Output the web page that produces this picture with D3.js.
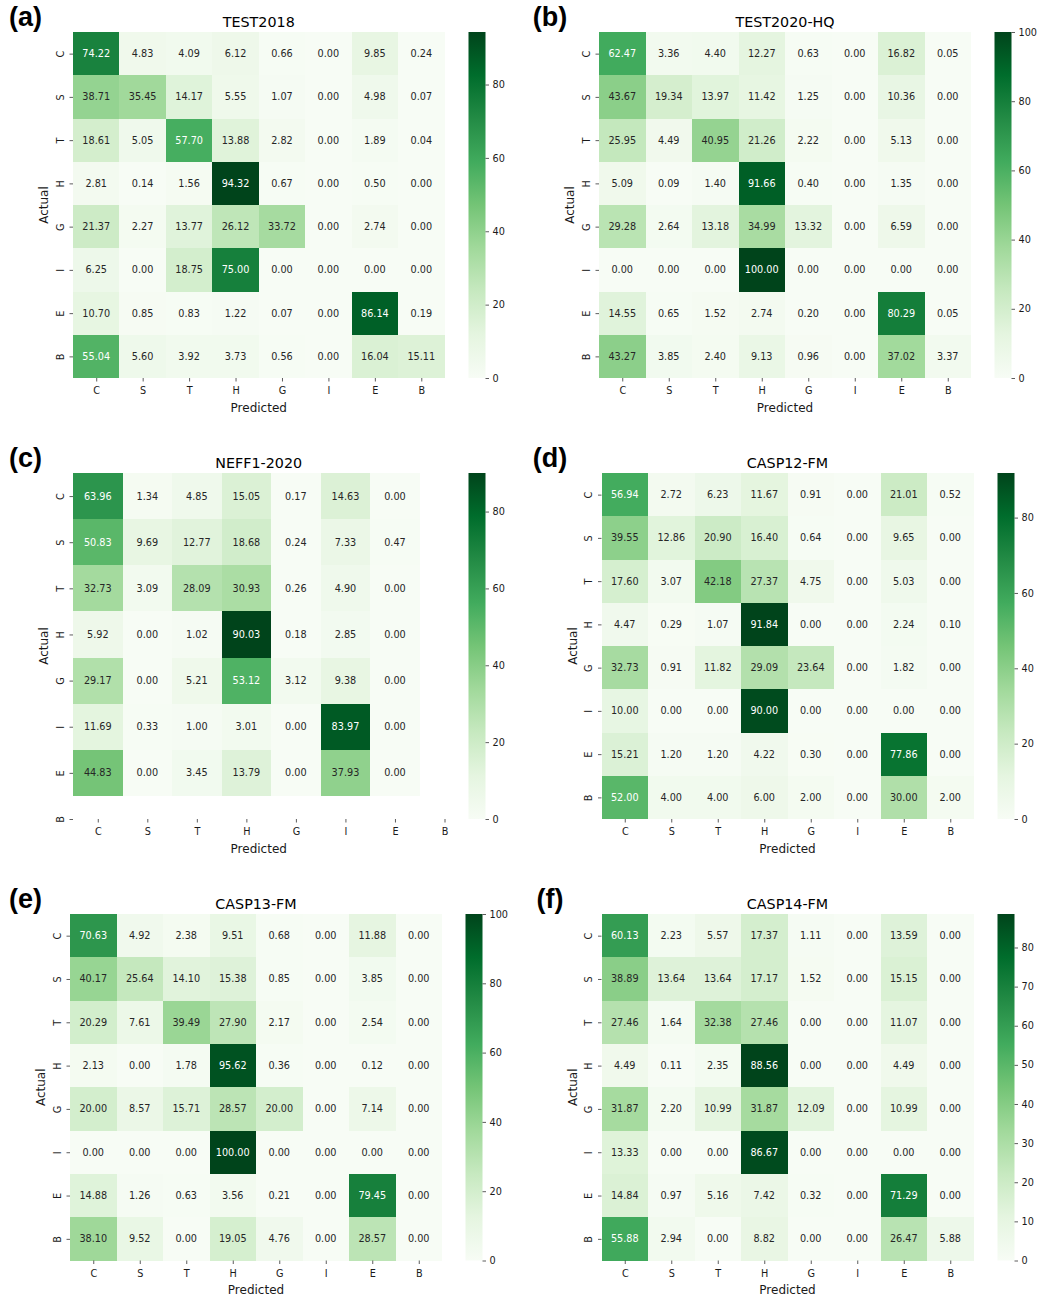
<!DOCTYPE html>
<html>
<head>
<meta charset="utf-8">
<script src="https://cdn.jsdelivr.net/npm/d3@7"></script>
<style>
  html, body { margin: 0; padding: 0; background: #fff; }
</style>
</head>
<body>
<div id="chart"></div>
<script>
// ---------------- DATA ----------------
const classLabels = ["C", "S", "T", "H", "G", "I", "E", "B"];
const panelIds = ["(a)", "(b)", "(c)", "(d)", "(e)", "(f)"];
const titles = ["TEST2018", "TEST2020-HQ", "NEFF1-2020", "CASP12-FM", "CASP13-FM", "CASP14-FM"];

const test2018 = [
  [74.22, 4.83, 4.09, 6.12, 0.66, 0.00, 9.85, 0.24],
  [38.71, 35.45, 14.17, 5.55, 1.07, 0.00, 4.98, 0.07],
  [18.61, 5.05, 57.70, 13.88, 2.82, 0.00, 1.89, 0.04],
  [2.81, 0.14, 1.56, 94.32, 0.67, 0.00, 0.50, 0.00],
  [21.37, 2.27, 13.77, 26.12, 33.72, 0.00, 2.74, 0.00],
  [6.25, 0.00, 18.75, 75.00, 0.00, 0.00, 0.00, 0.00],
  [10.70, 0.85, 0.83, 1.22, 0.07, 0.00, 86.14, 0.19],
  [55.04, 5.60, 3.92, 3.73, 0.56, 0.00, 16.04, 15.11]
];
const test2020hq = [
  [62.47, 3.36, 4.40, 12.27, 0.63, 0.00, 16.82, 0.05],
  [43.67, 19.34, 13.97, 11.42, 1.25, 0.00, 10.36, 0.00],
  [25.95, 4.49, 40.95, 21.26, 2.22, 0.00, 5.13, 0.00],
  [5.09, 0.09, 1.40, 91.66, 0.40, 0.00, 1.35, 0.00],
  [29.28, 2.64, 13.18, 34.99, 13.32, 0.00, 6.59, 0.00],
  [0.00, 0.00, 0.00, 100.00, 0.00, 0.00, 0.00, 0.00],
  [14.55, 0.65, 1.52, 2.74, 0.20, 0.00, 80.29, 0.05],
  [43.27, 3.85, 2.40, 9.13, 0.96, 0.00, 37.02, 3.37]
];
const neff12020 = [
  [63.96, 1.34, 4.85, 15.05, 0.17, 14.63, 0.00],
  [50.83, 9.69, 12.77, 18.68, 0.24, 7.33, 0.47],
  [32.73, 3.09, 28.09, 30.93, 0.26, 4.90, 0.00],
  [5.92, 0.00, 1.02, 90.03, 0.18, 2.85, 0.00],
  [29.17, 0.00, 5.21, 53.12, 3.12, 9.38, 0.00],
  [11.69, 0.33, 1.00, 3.01, 0.00, 83.97, 0.00],
  [44.83, 0.00, 3.45, 13.79, 0.00, 37.93, 0.00]
];
const casp12fm = [
  [56.94, 2.72, 6.23, 11.67, 0.91, 0.00, 21.01, 0.52],
  [39.55, 12.86, 20.90, 16.40, 0.64, 0.00, 9.65, 0.00],
  [17.60, 3.07, 42.18, 27.37, 4.75, 0.00, 5.03, 0.00],
  [4.47, 0.29, 1.07, 91.84, 0.00, 0.00, 2.24, 0.10],
  [32.73, 0.91, 11.82, 29.09, 23.64, 0.00, 1.82, 0.00],
  [10.00, 0.00, 0.00, 90.00, 0.00, 0.00, 0.00, 0.00],
  [15.21, 1.20, 1.20, 4.22, 0.30, 0.00, 77.86, 0.00],
  [52.00, 4.00, 4.00, 6.00, 2.00, 0.00, 30.00, 2.00]
];
const casp13fm = [
  [70.63, 4.92, 2.38, 9.51, 0.68, 0.00, 11.88, 0.00],
  [40.17, 25.64, 14.10, 15.38, 0.85, 0.00, 3.85, 0.00],
  [20.29, 7.61, 39.49, 27.90, 2.17, 0.00, 2.54, 0.00],
  [2.13, 0.00, 1.78, 95.62, 0.36, 0.00, 0.12, 0.00],
  [20.00, 8.57, 15.71, 28.57, 20.00, 0.00, 7.14, 0.00],
  [0.00, 0.00, 0.00, 100.00, 0.00, 0.00, 0.00, 0.00],
  [14.88, 1.26, 0.63, 3.56, 0.21, 0.00, 79.45, 0.00],
  [38.10, 9.52, 0.00, 19.05, 4.76, 0.00, 28.57, 0.00]
];
const casp14fm = [
  [60.13, 2.23, 5.57, 17.37, 1.11, 0.00, 13.59, 0.00],
  [38.89, 13.64, 13.64, 17.17, 1.52, 0.00, 15.15, 0.00],
  [27.46, 1.64, 32.38, 27.46, 0.00, 0.00, 11.07, 0.00],
  [4.49, 0.11, 2.35, 88.56, 0.00, 0.00, 4.49, 0.00],
  [31.87, 2.20, 10.99, 31.87, 12.09, 0.00, 10.99, 0.00],
  [13.33, 0.00, 0.00, 86.67, 0.00, 0.00, 0.00, 0.00],
  [14.84, 0.97, 5.16, 7.42, 0.32, 0.00, 71.29, 0.00],
  [55.88, 2.94, 0.00, 8.82, 0.00, 0.00, 26.47, 5.88]
];
const matrices = [test2018, test2020hq, neff12020, casp12fm, casp13fm, casp14fm];

const cbTicks20 = [0, 20, 40, 60, 80];
const cbTicks20to100 = [0, 20, 40, 60, 80, 100];
const cbTicks10 = [0, 10, 20, 30, 40, 50, 60, 70, 80];
const colorbarTicks = [cbTicks20, cbTicks20to100, cbTicks20, cbTicks20, cbTicks20to100, cbTicks10];

// Matplotlib "Greens" colormap control colours
const greens = ["#f7fcf5", "#e5f5e0", "#c7e9c0", "#a1d99b", "#74c476", "#41ab5d", "#238b45", "#006d2c", "#00441b"];

// ---------------- LAYOUT ----------------
const layout = [
  { L: 73,    T: 32,  R: 444.5, B: 378,    cbL: 468.5, cbR: 485.5, labelX: 25.5 },
  { L: 599,   T: 32,  R: 971,   B: 378,    cbL: 994.5, cbR: 1011.5, labelX: 550 },
  { L: 73,    T: 473, R: 444.5, B: 819,    cbL: 468.5, cbR: 485.5, labelX: 25.5 },
  { L: 601.5, T: 473, R: 973.5, B: 819,    cbL: 997.5, cbR: 1014.5, labelX: 550 },
  { L: 70,    T: 914, R: 442,   B: 1260.5, cbL: 465.5, cbR: 482.5, labelX: 25.5 },
  { L: 601.5, T: 914, R: 973.5, B: 1260.5, cbL: 997.5, cbR: 1014.5, labelX: 550 }
];

const FONT = "'DejaVu Sans', 'Noto Sans', sans-serif";
const TXT = "#1a1a1a";
const TICK_LEN = 3.5, TICK_PAD = 3.5;

function relLum(c) {
  const rgb = d3.rgb(c);
  const lin = [rgb.r, rgb.g, rgb.b].map(v => {
    v = v / 255;
    return v <= 0.03928 ? v / 12.92 : Math.pow((v + 0.055) / 1.055, 2.4);
  });
  return 0.2126 * lin[0] + 0.7152 * lin[1] + 0.0722 * lin[2];
}

const svg = d3.select("#chart").append("svg")
  .attr("width", 1042).attr("height", 1298)
  .style("background", "#fff")
  .style("font-family", FONT);

svg.append("rect").attr("width", 1042).attr("height", 1298).attr("fill", "#fff");
const defs = svg.append("defs");

matrices.forEach((data, pi) => {
  const lay = layout[pi];
  const nR = data.length, nC = data[0].length;
  const extX = Math.max(nC, classLabels.length - 0.5);
  const extY = Math.max(nR, classLabels.length - 0.5);
  const x = d3.scaleLinear().domain([0, extX]).range([lay.L, lay.R]);
  const y = d3.scaleLinear().domain([0, extY]).range([lay.T, lay.B]);
  const flat = data.flat();
  const vmin = d3.min(flat), vmax = d3.max(flat);
  const color = d3.scaleLinear()
    .domain(greens.map((_, i) => vmin + (vmax - vmin) * i / (greens.length - 1)))
    .range(greens)
    .interpolate(d3.interpolateRgb)
    .clamp(true);

  const g = svg.append("g");

  // cells
  const cells = [];
  data.forEach((row, i) => row.forEach((v, j) => cells.push({ i, j, v })));
  g.append("g").selectAll("rect").data(cells).join("rect")
    .attr("x", d => x(d.j))
    .attr("y", d => y(d.i))
    .attr("width", d => x(d.j + 1) - x(d.j))
    .attr("height", d => y(d.i + 1) - y(d.i))
    .attr("fill", d => color(d.v))
    .attr("shape-rendering", "crispEdges");

  // annotations
  g.append("g").selectAll("text").data(cells).join("text")
    .attr("x", d => x(d.j + 0.5))
    .attr("y", d => y(d.i + 0.5))
    .attr("dy", "0.36em")
    .attr("text-anchor", "middle")
    .attr("font-size", "9.7px")
    .attr("fill", d => relLum(color(d.v)) > 0.408 ? "#262626" : "#ffffff")
    .text(d => d.v.toFixed(2));

  const tickVals = classLabels.map((_, k) => k + 0.5);

  // x axis
  const xAxis = d3.axisBottom(x).tickValues(tickVals)
    .tickFormat((d, k) => classLabels[k]).tickSize(TICK_LEN).tickPadding(TICK_PAD);
  const gx = g.append("g").attr("transform", `translate(0,${lay.B})`).call(xAxis);
  gx.select(".domain").remove();
  gx.selectAll(".tick line").attr("stroke", "#333").attr("stroke-width", 0.8);
  gx.selectAll(".tick text").attr("font-family", FONT).attr("font-size", "9.7px")
    .attr("fill", TXT).attr("dy", null).attr("y", 16);

  // y axis
  const yAxis = d3.axisLeft(y).tickValues(tickVals)
    .tickFormat((d, k) => classLabels[k]).tickSize(TICK_LEN).tickPadding(TICK_PAD);
  const gy = g.append("g").attr("transform", `translate(${lay.L},0)`).call(yAxis);
  gy.select(".domain").remove();
  gy.selectAll(".tick line").attr("stroke", "#333").attr("stroke-width", 0.8);
  gy.selectAll(".tick text").attr("font-family", FONT).attr("font-size", "9.7px")
    .attr("fill", TXT)
    .attr("x", 0).attr("y", 0).attr("dy", null)
    .attr("text-anchor", "middle")
    .attr("transform", "translate(-9.5,0) rotate(-90)");

  // axis labels
  g.append("text")
    .attr("x", (lay.L + lay.R) / 2).attr("y", lay.B + 33.5)
    .attr("text-anchor", "middle").attr("font-size", "12px").attr("fill", TXT)
    .text("Predicted");
  g.append("text")
    .attr("transform", `translate(${lay.L - 24.7},${(lay.T + lay.B) / 2}) rotate(-90)`)
    .attr("text-anchor", "middle").attr("font-size", "12px").attr("fill", TXT)
    .text("Actual");

  // title
  g.append("text")
    .attr("x", (lay.L + lay.R) / 2).attr("y", lay.T - 5.3)
    .attr("text-anchor", "middle").attr("font-size", "14.3px").attr("fill", "#000")
    .text(titles[pi]);

  // panel label
  g.append("text")
    .attr("x", lay.labelX).attr("y", lay.T - 6)
    .attr("text-anchor", "middle")
    .attr("font-family", "'Liberation Sans', Arial, sans-serif")
    .attr("font-weight", "bold").attr("font-size", "27px").attr("fill", "#000")
    .text(panelIds[pi]);

  // colorbar
  const gradId = "grad" + pi;
  const grad = defs.append("linearGradient").attr("id", gradId)
    .attr("x1", 0).attr("y1", 1).attr("x2", 0).attr("y2", 0);
  greens.forEach((c, k) => grad.append("stop")
    .attr("offset", k / (greens.length - 1)).attr("stop-color", c));
  g.append("rect")
    .attr("x", lay.cbL).attr("y", lay.T)
    .attr("width", lay.cbR - lay.cbL).attr("height", lay.B - lay.T)
    .attr("fill", `url(#${gradId})`);
  const cbScale = d3.scaleLinear().domain([vmin, vmax]).range([lay.B, lay.T]);
  const cbAxis = d3.axisRight(cbScale).tickValues(colorbarTicks[pi])
    .tickFormat(d3.format("d")).tickSize(TICK_LEN).tickPadding(TICK_PAD);
  const gc = g.append("g").attr("transform", `translate(${lay.cbR},0)`).call(cbAxis);
  gc.select(".domain").remove();
  gc.selectAll(".tick line").attr("stroke", "#333").attr("stroke-width", 0.8);
  gc.selectAll(".tick text").attr("font-family", FONT).attr("font-size", "9.7px").attr("fill", TXT);
});
</script>
</body>
</html>
